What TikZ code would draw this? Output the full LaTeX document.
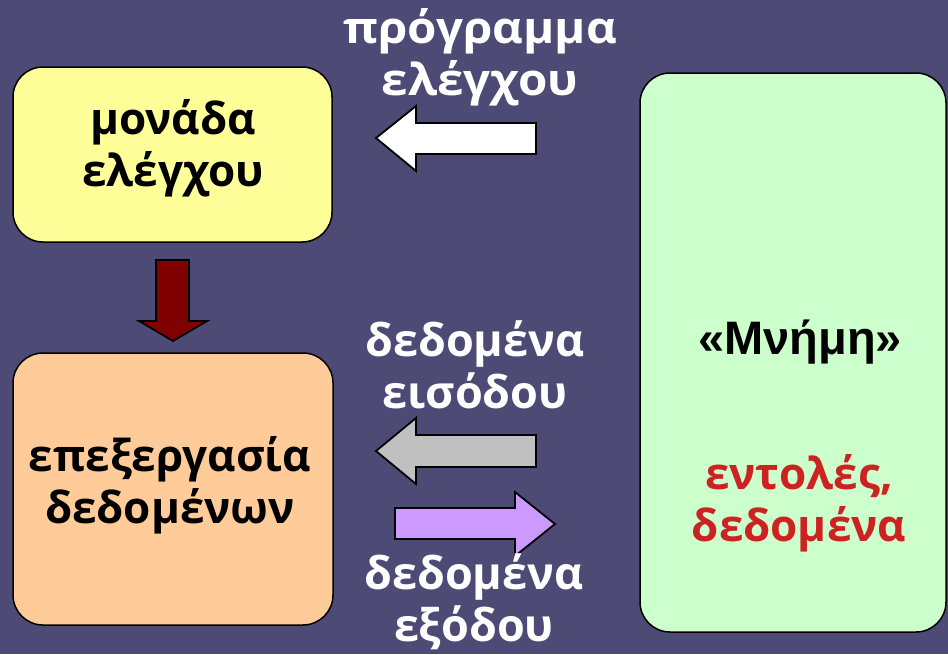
\documentclass[tikz,border=0pt]{standalone}
\usepackage{fontspec}
\setmainfont{Open Sans}
\newfontfamily\widefont[FakeStretch=1.08]{Open Sans}
\newfontfamily\arialfont{Liberation Sans}
\definecolor{bg}{HTML}{4D4B76}
\definecolor{boxyellow}{HTML}{FFFF99}
\definecolor{boxorange}{HTML}{FFCC99}
\definecolor{boxgreen}{HTML}{CCFFCC}
\definecolor{arrpurple}{HTML}{CC99FF}
\definecolor{arrgray}{HTML}{C0C0C0}
\definecolor{arrred}{HTML}{800000}
\definecolor{txtred}{HTML}{CC2222}
\begin{document}
\begin{tikzpicture}[x=1pt,y=-1pt,
  box/.style={draw=black,line width=1.5pt,rounded corners=30pt},
  arr/.style={draw=black,line width=1.8pt,line join=miter},
  lbl/.style={font=\fontsize{44}{52}\selectfont\bfseries,align=center,inner sep=0pt}]
\fill[bg] (0,0) rectangle (948,654);
\useasboundingbox (0,0) rectangle (948,654);
% boxes
\draw[box,fill=boxyellow] (13,67) rectangle (332,242);
\draw[box,fill=boxorange] (13,353) rectangle (333,625);
\draw[box,fill=boxgreen] (640,73) rectangle (946,632);
% arrows
\draw[arr,fill=white] (536,123) -- (416,123) -- (416,106) -- (376,138) -- (416,171) -- (416,154) -- (536,154) -- cycle;
\draw[arr,fill=arrgray] (536,435) -- (416,435) -- (416,418) -- (376,451) -- (416,484) -- (416,467) -- (536,467) -- cycle;
\draw[arr,fill=arrpurple] (395,508) -- (515,508) -- (515,492) -- (555,524) -- (515,556) -- (515,539) -- (395,539) -- cycle;
\draw[arr,fill=arrred] (156,260) -- (189,260) -- (189,321) -- (207,321) -- (173,341) -- (139,321) -- (156,321) -- cycle;
% labels
\node[lbl] (ctrl) at (173,148) {μονάδα\\ελέγχου};
\node[lbl] (proc) at (170,485) {επεξεργασία\\δεδομένων};
\node[lbl,font=\fontsize{47}{52}\selectfont\bfseries\arialfont] (mem) at (800,342) {«Μνήμη»};
\node[lbl,text=txtred] (memc) at (799,503) {εντολές,\\δεδομένα};
\node[lbl,text=white,font=\fontsize{44}{52}\selectfont\bfseries\widefont] (prog) at (480,57) {πρόγραμμα\\ελέγχου};
\node[lbl,text=white,font=\fontsize{45}{52}\selectfont\bfseries] (inp) at (475,365) {δεδομένα\\εισόδου};
\node[lbl,text=white,font=\fontsize{45}{52}\selectfont\bfseries] (outp) at (474,602) {δεδομένα\\εξόδου};
\end{tikzpicture}
\end{document}
